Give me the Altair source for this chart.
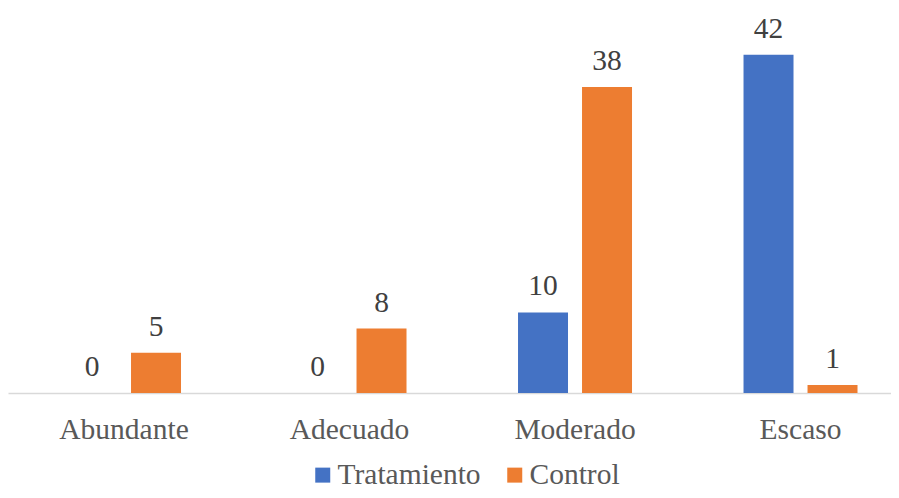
import altair as alt
import pandas as pd

categories = ["Abundante", "Adecuado", "Moderado", "Escaso"]
series = ["Tratamiento", "Control"]
tratamiento = [0, 0, 10, 42]
control = [5, 8, 38, 1]
colors = ["#4472C4", "#ED7D31"]

rows = []
for i, c in enumerate(categories):
    rows.append({"cat": c, "serie": "Tratamiento", "val": tratamiento[i]})
    rows.append({"cat": c, "serie": "Control", "val": control[i]})
df = pd.DataFrame(rows)

FONT = "Liberation Serif"
FS = 29.5

x = alt.X("cat:N", sort=categories, title=None,
          scale=alt.Scale(paddingInner=0.4945, paddingOuter=0.2051, align=0.638),
          axis=alt.Axis(labelAngle=0, ticks=False, tickSize=0, labelPadding=45,
                        labelBaseline="alphabetic", labelFont=FONT, labelFontSize=FS,
                        labelColor="#595959", domainColor="#D9D9D9", domainWidth=1.5))
xo = alt.XOffset("serie:N", sort=series,
                 scale=alt.Scale(paddingInner=0.219, paddingOuter=0))
y = alt.Y("val:Q", scale=alt.Scale(domain=[0, 47.8], nice=False, zero=True), axis=None)

bars = alt.Chart(df).mark_bar().encode(
    x=x, xOffset=xo, y=y,
    color=alt.Color("serie:N", sort=series,
                    scale=alt.Scale(domain=series, range=colors),
                    legend=alt.Legend(title=None, orient="none", direction="horizontal",
                                      legendX=300, legendY=452, padding=0,
                                      symbolType="square", symbolSize=225,
                                      symbolStrokeWidth=0, labelOffset=0,
                                      columnPadding=19, labelFont=FONT,
                                      labelFontSize=FS, labelColor="#595959",
                                      labelBaseline="middle")),
)

labels = alt.Chart(df).mark_text(font=FONT, fontSize=FS, color="#404040",
                                 baseline="alphabetic", dy=-17).encode(
    x=x, xOffset=xo, y=y, text="val:Q")

chart = (bars + labels).properties(
    width=883, height=385,
    autosize=alt.AutoSizeParams(type="none"),
    padding={"left": 0, "top": 0, "right": 0, "bottom": 97},
).configure(font=FONT).configure_view(stroke=None).configure_legend(
    labelFont=FONT, labelFontSize=FS, labelColor="#595959")

chart.save("out.html", embed_options={"renderer": "svg", "actions": False})
